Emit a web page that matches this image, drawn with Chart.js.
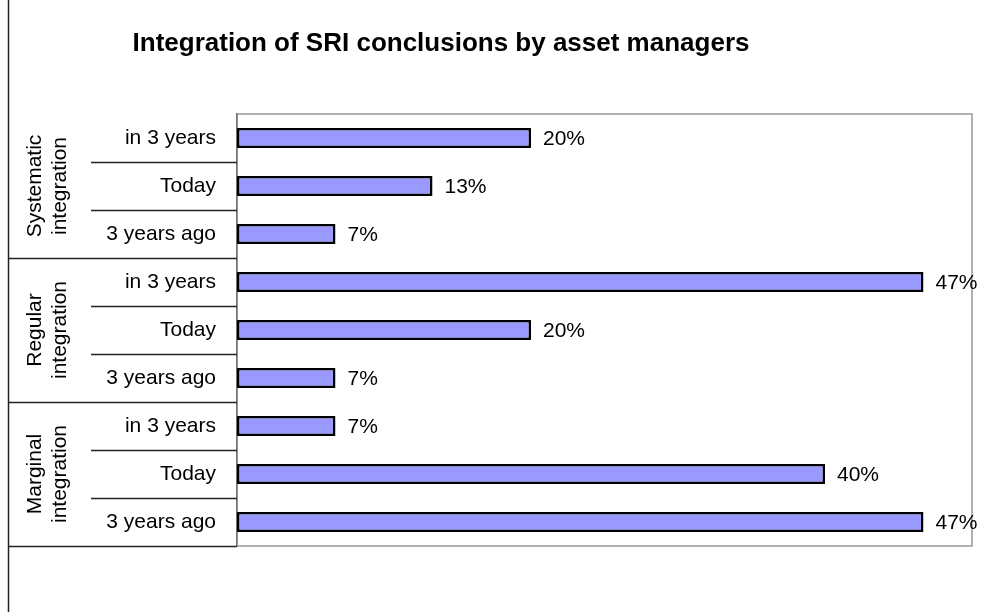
<!DOCTYPE html>
<html>
<head>
<meta charset="utf-8">
<title>Integration of SRI conclusions by asset managers</title>
<script src="https://cdn.jsdelivr.net/npm/chart.js@4/dist/chart.umd.min.js"></script>
<style>
    html, body { margin: 0; padding: 0; background: #fff; }
    #wrap { width: 1007px; height: 612px; }
</style>
</head>
<body>
<div id="wrap"><canvas id="chart" width="1007" height="612"></canvas></div>
<script>
(function () {
    'use strict';

    // ---- data ----
    var TITLE = 'Integration of SRI conclusions by asset managers';
    var GROUPS = [['Systematic', 'integration'], ['Regular', 'integration'], ['Marginal', 'integration']];
    var PERIODS = ['in 3 years', 'Today', '3 years ago'];
    var CATEGORIES = [
        'in 3 years', 'Today', '3 years ago',
        'in 3 years', 'Today', '3 years ago',
        'in 3 years', 'Today', '3 years ago'
    ];
    var VALUES = [20, 13.3, 6.7, 46.7, 20, 6.7, 6.7, 40, 46.7];
    var X_MAX = 50;

    var FONT = '"Liberation Sans", Arial, sans-serif';

    // ------------------------------------------------------------------
    // Plugin: title, data labels, group labels, separator lines, frame
    // ------------------------------------------------------------------
    var decor = {
        id: 'decor',
        beforeDatasetsDraw: function (chart) {
            var ctx = chart.ctx, a = chart.chartArea;
            ctx.save();
            ctx.strokeStyle = '#999';
            ctx.lineWidth = 1.5;
            ctx.strokeRect(a.left, a.top, a.right - a.left, a.bottom - a.top);
            ctx.restore();
        },
        afterDraw: function (chart) {
            var ctx = chart.ctx, a = chart.chartArea;
            var y = chart.scales.y;
            var meta = chart.getDatasetMeta(0);
            var row = y.getPixelForValue(1) - y.getPixelForValue(0);
            var per = PERIODS.length;

            ctx.save();

            // title
            ctx.fillStyle = '#000';
            ctx.font = 'bold 26px ' + FONT;
            ctx.textAlign = 'center';
            ctx.textBaseline = 'middle';
            ctx.fillText(TITLE, 441, 44);

            // left rule
            ctx.strokeStyle = '#222';
            ctx.lineWidth = 1.5;
            ctx.beginPath();
            ctx.moveTo(8.5, 0);
            ctx.lineTo(8.5, chart.height);
            ctx.stroke();

            // separators under each row
            for (var i = 0; i < CATEGORIES.length; i++) {
                var yy = Math.round(y.getPixelForValue(i) + row / 2) + 0.5;
                var x0 = ((i + 1) % per === 0) ? 8 : 91;
                ctx.beginPath();
                ctx.moveTo(x0, yy);
                ctx.lineTo(a.left, yy);
                ctx.stroke();
            }

            // group labels (rotated)
            ctx.font = '21px ' + FONT;
            ctx.textAlign = 'center';
            ctx.textBaseline = 'middle';
            GROUPS.forEach(function (lines, g) {
                var cy = (y.getPixelForValue(g * per) + y.getPixelForValue(g * per + per - 1)) / 2;
                ctx.save();
                ctx.translate(48, cy);
                ctx.rotate(-Math.PI / 2);
                lines.forEach(function (t, k) {
                    ctx.fillText(t, 0, (k - (lines.length - 1) / 2) * 25);
                });
                ctx.restore();
            });

            // data labels
            ctx.font = '21px ' + FONT;
            ctx.textAlign = 'left';
            meta.data.forEach(function (bar, i) {
                ctx.fillText(Math.round(VALUES[i]) + '%', bar.x + 12, bar.y + 1);
            });

            ctx.restore();
        }
    };

    new Chart(document.getElementById('chart'), {
        type: 'bar',
        data: {
            labels: CATEGORIES,
            datasets: [{
                data: VALUES,
                backgroundColor: '#9999FF',
                borderColor: '#000',
                borderWidth: 2.5,
                borderSkipped: false,
                categoryPercentage: 1,
                barPercentage: 0.42
            }]
        },
        options: {
            indexAxis: 'y',
            responsive: false,
            animation: false,
            layout: { padding: { top: 114, right: 35, bottom: 66, left: 0 } },
            plugins: {
                legend: { display: false },
                tooltip: { enabled: false },
                title: { display: false }
            },
            scales: {
                x: {
                    display: false,
                    min: 0,
                    max: X_MAX
                },
                y: {
                    afterFit: function (scale) { scale.width = 237; },
                    grid: { display: false, drawTicks: false },
                    border: { display: true, color: '#000', width: 1.5 },
                    ticks: {
                        padding: 21,
                        color: '#000',
                        font: { family: FONT, size: 21 }
                    }
                }
            }
        },
        plugins: [decor]
    });
})();
</script>
</body>
</html>
